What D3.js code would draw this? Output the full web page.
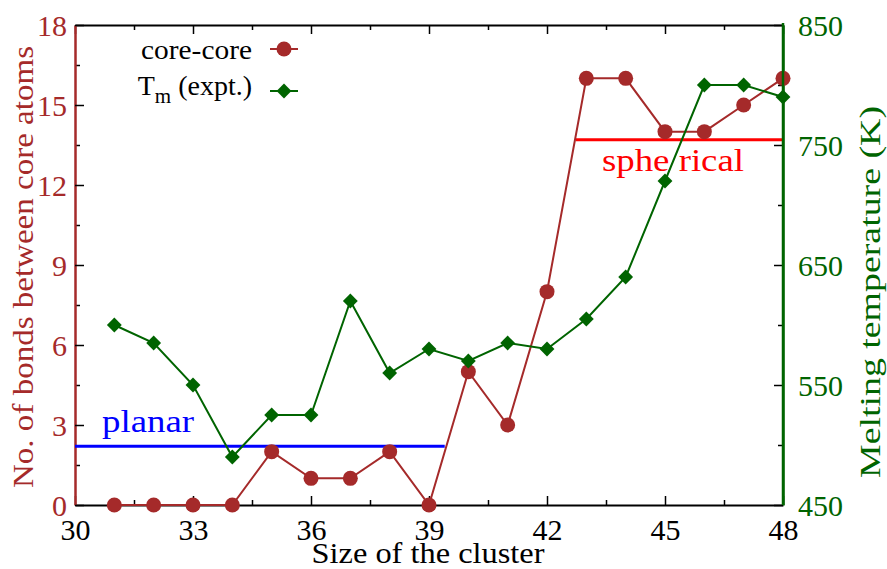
<!DOCTYPE html>
<html><head><meta charset="utf-8">
<script src="https://cdn.jsdelivr.net/npm/d3@7"></script>
<style>body{margin:0;background:#fff}svg{display:block}text{font-family:"Liberation Serif","Times New Roman",serif}</style>
</head><body>
<script>
const sizes = [31,32,33,34,35,36,37,38,39,40,41,42,43,44,45,46,47,48];
const coreCore = [0,0,0,0,2,1,1,2,0,5,3,8,16,16,14,14,15,16];
const tmExpt = [600,585,550,490,525,525,620,560,580,570,585,580,605,640,720,800,800,790];
const xTicks = [30,33,36,39,42,45,48];
const xMinor = [31.5,34.5,37.5,40.5,43.5,46.5];
const yLeftTicks = [0,3,6,9,12,15,18];
const yLeftMinor = [1.5,4.5,7.5,10.5,13.5,16.5];
const yRightTicks = [450,550,650,750,850];
const yRightMinor = [500,600,700,800];
const planarRange = [30,39.4], planarLevel = 2.2;
const sphericalRange = [42.73,48], sphericalLevel = 13.7;

const W = 887, H = 569;
const L = 75, R = 783, T = 25, B = 505;
const BROWN = "#a52a2a", GREEN = "#006400";
const SERIF = '"Liberation Serif","Times New Roman",serif';

const svg = d3.select("body").append("svg").attr("width", W).attr("height", H).attr("font-family", SERIF);
const x = d3.scaleLinear().domain([30,48]).range([L,R]);
const yL = d3.scaleLinear().domain([0,18]).range([B,T]);
const yR = d3.scaleLinear().domain([450,850]).range([B,T]);

function styleAxis(g, color, width){
  g.attr("font-family", SERIF);
  g.select(".domain").attr("stroke", color).attr("stroke-width", width);
  g.selectAll(".tick line").attr("stroke", "#000").attr("stroke-width", 1.5);
  g.selectAll("text").attr("fill", color).attr("font-size", 30);
}
function minor(g){ g.select(".domain").remove(); g.selectAll("line").attr("stroke","#000").attr("stroke-width",1.5); }

// minor ticks
svg.append("g").attr("transform",`translate(0,${B})`).call(d3.axisBottom(x).tickValues(xMinor).tickSize(-5).tickFormat("")).call(minor);
svg.append("g").attr("transform",`translate(0,${T})`).call(d3.axisTop(x).tickValues(xMinor).tickSize(-5).tickFormat("")).call(minor);
svg.append("g").attr("transform",`translate(${L},0)`).call(d3.axisLeft(yL).tickValues(yLeftMinor).tickSize(-5).tickFormat("")).call(minor);
svg.append("g").attr("transform",`translate(${R},0)`).call(d3.axisRight(yR).tickValues(yRightMinor).tickSize(-5).tickFormat("")).call(minor);

// top axis
svg.append("g").attr("transform",`translate(0,${T})`).call(d3.axisTop(x).tickValues(xTicks).tickSize(-9).tickSizeOuter(0).tickFormat(""))
  .call(g=>styleAxis(g,"#000",2));
// bottom axis
svg.append("g").attr("transform",`translate(0,${B})`).call(d3.axisBottom(x).tickValues(xTicks).tickSize(-9).tickSizeOuter(0).tickPadding(0))
  .call(g=>{styleAxis(g,"#000",2); g.selectAll("text").attr("y",35).attr("dy",0);});
// left axis
svg.append("g").attr("transform",`translate(${L},0)`).call(d3.axisLeft(yL).tickValues(yLeftTicks).tickSize(-9).tickSizeOuter(0))
  .call(g=>{styleAxis(g,BROWN,2.5); g.selectAll("text").attr("x",-8).attr("dy","0.34em");});
// right axis
svg.append("g").attr("transform",`translate(${R},0)`).call(d3.axisRight(yR).tickValues(yRightTicks).tickSize(-9).tickSizeOuter(0))
  .call(g=>{styleAxis(g,GREEN,2.5); g.selectAll("text").attr("x",15).attr("dy","0.34em");});

// reference lines
svg.append("line").attr("x1",x(planarRange[0])).attr("x2",x(planarRange[1])).attr("y1",yL(planarLevel)).attr("y2",yL(planarLevel))
  .attr("stroke","#0000ff").attr("stroke-width",3);
svg.append("line").attr("x1",x(sphericalRange[0])).attr("x2",x(sphericalRange[1])).attr("y1",yL(sphericalLevel)).attr("y2",yL(sphericalLevel))
  .attr("stroke","#ff0000").attr("stroke-width",3);
svg.append("text").attr("x",102).attr("y",432).attr("fill","#0000ff").attr("font-size",31)
  .attr("textLength",92).attr("lengthAdjust","spacingAndGlyphs").text("planar");
svg.append("text").attr("x",602).attr("y",171).attr("fill","#ff0000").attr("font-size",31)
  .attr("textLength",142).attr("lengthAdjust","spacingAndGlyphs").text("sphe rical");

// core-core series
const ccData = sizes.map((s,i)=>[s,coreCore[i]]);
svg.append("path").datum(ccData).attr("fill","none").attr("stroke",BROWN).attr("stroke-width",2)
  .attr("d", d3.line().x(d=>x(d[0])).y(d=>yL(d[1])));
svg.append("g").selectAll("circle").data(ccData).join("circle")
  .attr("cx",d=>x(d[0])).attr("cy",d=>yL(d[1])).attr("r",7.5).attr("fill",BROWN);

// Tm series
const tmData = sizes.map((s,i)=>[s,tmExpt[i]]);
svg.append("path").datum(tmData).attr("fill","none").attr("stroke",GREEN).attr("stroke-width",2)
  .attr("d", d3.line().x(d=>x(d[0])).y(d=>yR(d[1])));
const diamond = d3.symbol().type(d3.symbolSquare).size(110);
svg.append("g").selectAll("path").data(tmData).join("path")
  .attr("d",diamond).attr("transform",d=>`translate(${x(d[0])},${yR(d[1])}) rotate(45)`).attr("fill",GREEN);

// redraw right axis line over markers
svg.append("line").attr("x1",R).attr("x2",R).attr("y1",T-2).attr("y2",B).attr("stroke",GREEN).attr("stroke-width",2.5);

// legend
const lg = svg.append("g");
lg.append("text").attr("x",252).attr("y",59).attr("text-anchor","end").attr("font-size",28)
  .attr("textLength",111).attr("lengthAdjust","spacingAndGlyphs").text("core-core");
lg.append("line").attr("x1",270).attr("x2",298).attr("y1",49).attr("y2",49).attr("stroke",BROWN).attr("stroke-width",2);
lg.append("circle").attr("cx",284).attr("cy",49).attr("r",7.5).attr("fill",BROWN);
const t2 = lg.append("text").attr("x",252).attr("y",95).attr("text-anchor","end").attr("font-size",28);
t2.append("tspan").text("T");
t2.append("tspan").attr("font-size",21).attr("dy",8).text("m");
t2.append("tspan").attr("dy",-8).text(" (expt.)");
lg.append("line").attr("x1",270).attr("x2",298).attr("y1",91).attr("y2",91).attr("stroke",GREEN).attr("stroke-width",2);
lg.append("path").attr("d",diamond).attr("transform","translate(284,91) rotate(45)").attr("fill",GREEN);

// axis titles
svg.append("text").attr("x",428).attr("y",563).attr("text-anchor","middle").attr("font-size",30)
  .attr("textLength",233).attr("lengthAdjust","spacingAndGlyphs").text("Size of the cluster");
svg.append("text").attr("transform","translate(33,267) rotate(-90)").attr("text-anchor","middle").attr("font-size",30)
  .attr("textLength",442).attr("lengthAdjust","spacingAndGlyphs").attr("fill",BROWN).text("No. of bonds between core atoms");
svg.append("text").attr("transform","translate(880,292) rotate(-90)").attr("text-anchor","middle").attr("font-size",30)
  .attr("textLength",372).attr("lengthAdjust","spacingAndGlyphs").attr("fill",GREEN).text("Melting temperature (K)");
</script>
</body></html>
